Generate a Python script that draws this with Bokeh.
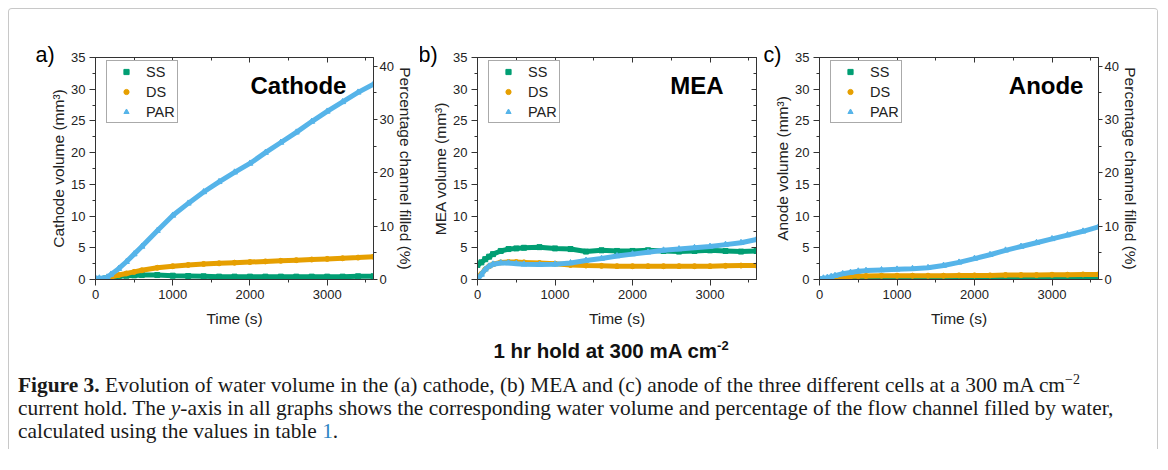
from bokeh.plotting import figure
from bokeh.models import (LinearAxis, Range1d, Label, Legend, LegendItem, Div, FixedTicker,
                          CustomJSTickFormatter)
from bokeh.layouts import row, column
from bokeh.embed import file_html
from bokeh.resources import INLINE

FONT = "Liberation Sans"
C_SS, C_DS, C_PAR = "#009E73", "#E69F00", "#56B4E9"

# ---------------- data ----------------
time_s = [0, 50, 100, 150, 200, 300, 400, 500, 600, 800, 1000, 1200, 1400, 1600,
          1800, 2000, 2200, 2400, 2600, 2800, 3000, 3200, 3400, 3600]

cathode_ss = [0.0, 0.05, 0.1, 0.2, 0.3, 0.5, 0.6, 0.65, 0.7, 0.7, 0.6, 0.55, 0.5, 0.45,
              0.45, 0.45, 0.45, 0.45, 0.45, 0.45, 0.45, 0.45, 0.5, 0.5]
cathode_ds = [0.0, 0.0, 0.1, 0.25, 0.4, 0.7, 0.95, 1.2, 1.45, 1.85, 2.1, 2.3, 2.45, 2.55,
              2.65, 2.75, 2.85, 2.95, 3.05, 3.15, 3.25, 3.35, 3.45, 3.6]
cathode_par = [0.2, 0.2, 0.15, 0.35, 0.8, 1.7, 2.8, 4.0, 5.2, 7.7, 10.1, 12.0, 13.8, 15.4,
               16.9, 18.3, 20.0, 21.6, 23.2, 24.9, 26.5, 28.0, 29.5, 30.8]

mea_ss = [2.3, 2.7, 3.2, 3.6, 4.0, 4.5, 4.8, 4.9, 5.0, 5.1, 4.9, 4.8, 4.4, 4.6,
          4.5, 4.5, 4.6, 4.5, 4.4, 4.5, 4.6, 4.5, 4.4, 4.5]
mea_ds = [0.2, 0.9, 1.6, 2.1, 2.4, 2.7, 2.75, 2.75, 2.7, 2.6, 2.5, 2.3, 2.2, 2.15,
          2.1, 2.1, 2.1, 2.1, 2.1, 2.1, 2.1, 2.15, 2.2, 2.2]
mea_par = [0.0, 0.8, 1.6, 2.1, 2.4, 2.6, 2.6, 2.5, 2.4, 2.35, 2.4, 2.6, 3.0, 3.3,
           3.7, 4.0, 4.3, 4.6, 4.8, 5.0, 5.2, 5.5, 5.8, 6.3]

anode_ss = [0.0, 0.0, 0.05, 0.05, 0.1, 0.1, 0.15, 0.15, 0.15, 0.15, 0.15, 0.15, 0.2, 0.2,
            0.2, 0.2, 0.2, 0.2, 0.25, 0.25, 0.25, 0.25, 0.3, 0.3]
anode_ds = [0.0, 0.05, 0.1, 0.2, 0.3, 0.4, 0.5, 0.55, 0.55, 0.6, 0.6, 0.6, 0.6, 0.6,
            0.65, 0.65, 0.65, 0.7, 0.7, 0.7, 0.75, 0.75, 0.8, 0.8]
anode_par = [0.1, 0.2, 0.3, 0.45, 0.6, 0.9, 1.1, 1.3, 1.4, 1.5, 1.6, 1.7, 1.85, 2.2,
             2.7, 3.3, 3.9, 4.6, 5.2, 5.8, 6.4, 7.0, 7.6, 8.3]

series_names = ["SS", "DS", "PAR"]
vol_ticks = [0, 5, 10, 15, 20, 25, 30, 35]
time_ticks = [0, 1000, 2000, 3000]
pct_ticks = [0, 10, 20, 30, 40]
PCT_MAX = 41.6  # percentage equivalent of 35 mm3

FRAME_H = 222
TOP_B, BOT_B = 48, 52


def style_axis(ax, labels=True, inward=False):
    ax.axis_line_color = "#333333"
    ax.major_tick_line_color = "#333333"
    ax.minor_tick_line_color = "#333333"
    if inward:
        ax.major_tick_in, ax.major_tick_out = 5, 0
        ax.minor_tick_in, ax.minor_tick_out = 3, 0
    else:
        ax.major_tick_in, ax.major_tick_out = 0, 6
        ax.minor_tick_in, ax.minor_tick_out = 0, 3
    if labels:
        ax.major_label_text_font = FONT
        ax.major_label_text_font_size = "13px"
        ax.major_label_text_color = "#222222"
        ax.major_label_standoff = 4
        ax.axis_label_text_font = FONT
        ax.axis_label_text_font_size = "15.5px"
        ax.axis_label_text_font_style = "normal"
        ax.axis_label_text_color = "#222222"
        ax.axis_label_standoff = 1
    else:
        ax.formatter = CustomJSTickFormatter(code="return ''")
        ax.major_label_text_font_size = "0px"
        ax.major_label_standoff = 0
        ax.axis_label = None


def panel(letter, letter_dx, name, name_x, ylabel, ss, ds, par, left_b, frame_w, right_b, pct_axis):
    p = figure(width=left_b + frame_w + right_b, height=TOP_B + FRAME_H + BOT_B,
               x_range=Range1d(0, 3600), y_range=Range1d(0, 35),
               output_backend="svg", toolbar_location=None,
               min_border_left=left_b, min_border_right=right_b, min_border_top=TOP_B, min_border_bottom=BOT_B)
    p.grid.visible = False
    p.outline_line_color = "#333333"
    p.background_fill_color = "white"
    p.border_fill_color = "white"

    # panel letter as the plot title, shifted left of the frame
    p.title.text = letter
    p.title.align = "left"
    p.title.offset = letter_dx
    p.title.standoff = -18
    p.title.vertical_align = "bottom"
    p.title.text_font = FONT
    p.title.text_font_size = "21.5px"
    p.title.text_font_style = "normal"
    p.title.text_color = "black"

    # left / bottom axes
    p.yaxis.ticker = FixedTicker(ticks=vol_ticks, minor_ticks=[v + 2.5 for v in vol_ticks[:-1]])
    p.xaxis.ticker = FixedTicker(ticks=time_ticks, minor_ticks=[500, 1500, 2500, 3500])
    p.yaxis.axis_label = ylabel
    p.xaxis.axis_label = "Time (s)"
    for ax in p.yaxis + p.xaxis:
        style_axis(ax)
    for ax in p.xaxis:
        ax.axis_label_standoff = 8

    # top axis (inward ticks, no labels)
    top = LinearAxis(ticker=FixedTicker(ticks=time_ticks, minor_ticks=[500, 1500, 2500, 3500]))
    style_axis(top, labels=False, inward=True)
    p.add_layout(top, "above")

    if pct_axis:
        p.extra_y_ranges = {"pct": Range1d(0, PCT_MAX)}
        right = LinearAxis(y_range_name="pct",
                           ticker=FixedTicker(ticks=pct_ticks, minor_ticks=[5, 15, 25, 35]),
                           axis_label="Percentage channel filled (%)")
        style_axis(right)
        right.major_tick_out = 4
        right.minor_tick_out = 3
        right.major_label_standoff = 2
        right.axis_label_standoff = 0
        p.add_layout(right, "right")
    else:
        right = LinearAxis(ticker=FixedTicker(ticks=vol_ticks, minor_ticks=[v + 2.5 for v in vol_ticks[:-1]]))
        style_axis(right, labels=False, inward=True)
        p.add_layout(right, "right")

    rends = []
    for vals, col, mk, sz in ((ss, C_SS, "square", 5), (ds, C_DS, "circle", 5), (par, C_PAR, "triangle", 6)):
        p.line(time_s, vals, line_color=col, line_width=5)
        r = p.scatter(time_s, vals, marker=mk, size=sz, fill_color=col, line_color=col)
        rends.append(r)

    legend = Legend(items=[LegendItem(label=n, renderers=[r]) for n, r in zip(series_names, rends)],
                    location=(11, FRAME_H - 5 - 61), margin=0, padding=2, spacing=3,
                    glyph_width=34, glyph_height=13, label_height=17, label_standoff=3,
                    label_text_font=FONT, label_text_font_size="14.5px", label_text_color="#222222",
                    border_line_color="#555555", border_line_width=1, background_fill_alpha=1)
    p.add_layout(legend, "center")

    p.add_layout(Label(x=name_x, y=30.6, text=name, text_align="right", text_baseline="middle",
                       text_font=FONT, text_font_size="24px", text_font_style="bold", text_color="black"))
    return p


fa = panel("a)", -60, "Cathode", 3250, "Cathode volume (mm³)", cathode_ss, cathode_ds, cathode_par,
           86, 278, 47, True)
fb = panel("b)", -59, "MEA", 3174, "MEA volume (mm³)", mea_ss, mea_ds, mea_par,
           57, 279, 6, False)
fc = panel("c)", -56, "Anode", 3406, "Anode volume (mm³)", anode_ss, anode_ds, anode_par,
           57, 279, 59, True)

title = Div(width=1148, height=36, margin=(0, 0, 0, 0),
            text='<div style="margin-left:402px;width:400px;text-align:center;padding-top:9px;'
                 'line-height:22px;font-family:\'Liberation Sans\';font-size:20.5px;font-weight:bold;color:#111;'
                 'white-space:nowrap">1 hr hold at 300 mA cm<sup style="font-size:13px;line-height:0">-2</sup></div>')

caption = Div(width=1148, height=82, margin=(0, 0, 0, 0),
              text='<div style="padding-left:9px;padding-top:7px;line-height:23px;font-family:\'Liberation Serif\';'
                   'font-size:21.4px;color:#1a1a1a;white-space:nowrap">'
                   '<b>Figure 3.</b> Evolution of water volume in the (a) cathode, (b) MEA and (c) anode of the three '
                   'different cells at a 300 mA cm<sup style="font-size:14px;line-height:0">\u22122</sup><br>'
                   'current hold. The <i>y</i>-axis in all graphs shows the corresponding water volume and percentage '
                   'of the flow channel filled by water,<br>'
                   'calculated using the values in table <span style="color:#2f86c4">1</span>.</div>')

layout = column(row(fa, fb, fc, spacing=0), title, caption, spacing=0, margin=(8, 0, 0, 8),
                styles={"border": "1px solid #c8c8c8", "border-bottom": "none", "border-radius": "4px 4px 0 0"})

open("out.html", "w").write(file_html(layout, INLINE))
